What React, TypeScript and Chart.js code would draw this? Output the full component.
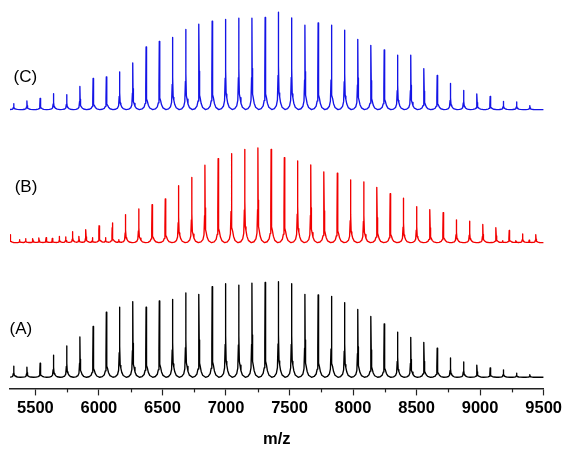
import { useEffect, useRef } from "react";
import { Chart, registerables } from "chart.js";

Chart.register(...registerables);

// ---- data -------------------------------------------------------------

const MZ_MIN = 5300;
const MZ_MAX = 9500;
const TICK_VALUES = [5500, 6000, 6500, 7000, 7500, 8000, 8500, 9000, 9500];
const AXIS_TITLE = "m/z";
const TRACE_LABELS = ["(A)", "(B)", "(C)"];

// Oligomer peak positions shared by spectra A and C (m/z)
const PEAK_MZ_AC = [
  5329, 5433, 5537, 5642, 5746, 5850, 5954, 6058, 6162, 6266,
  6371, 6475, 6579, 6683, 6787, 6891, 6996, 7100, 7204, 7308,
  7412, 7516, 7621, 7725, 7829, 7933, 8037, 8141, 8245, 8350,
  8454, 8558, 8662, 8766, 8870, 8975, 9079, 9183, 9287, 9391,
];

// Spectrum A peak intensities (a.u.)
const INTENSITY_A = [
  11.2, 10.2, 14.2, 22.2, 31.5, 40.5, 51.2, 65.5, 70.5, 76.2,
  70.5, 76.8, 78.5, 84.8, 83.5, 91.2, 94.2, 92.8, 94.8, 95.5,
  96.2, 94.2, 83.5, 82.8, 81.5, 75.2, 68.2, 61.2, 53.8, 45.5,
  40.2, 35.2, 29.2, 19.5, 15.5, 12.2, 9.5, 7.5, 4.2, 2.5,
];

// Spectrum C peak intensities (a.u.)
const INTENSITY_C = [
  6, 8.7, 11.3, 16, 15, 23.3, 31.3, 33, 38, 47,
  63, 68.7, 72.7, 80.7, 86, 89, 90.7, 92, 92, 92.7,
  98, 92.3, 85, 87.3, 85, 80, 70.7, 64.7, 60, 54.7,
  54.7, 41.3, 34.3, 26.3, 19.3, 15.7, 13.3, 8.3, 7.7, 4,
];

// Spectrum B main series (m/z) and intensities (a.u.)
const PEAK_MZ_B = [
  5376, 5480, 5584, 5689, 5793, 5897, 6001, 6105, 6209, 6313,
  6418, 6522, 6626, 6730, 6834, 6938, 7042, 7147, 7251, 7355,
  7459, 7563, 7667, 7771, 7876, 7980, 8084, 8188, 8292, 8396,
  8500, 8605, 8709, 8813, 8917, 9021, 9125, 9229, 9334, 9438,
];
const INTENSITY_B = [
  3, 4, 5, 6.3, 11, 13, 17, 20, 28.3, 34,
  38.3, 44, 57.3, 65.7, 78, 84.7, 89.7, 94, 95.3, 94,
  85.7, 82.3, 78.3, 71.3, 70, 63.3, 61.3, 55.7, 49.3, 44.7,
  36.3, 33.3, 30.3, 23, 21.7, 18.3, 15, 12.3, 8.7, 8,
];

// Spectrum B minor series (m/z) and intensities (a.u.)
const MINOR_MZ_B = [5300, 5423, 5528, 5633, 5738, 5842, 5948, 6052, 6156, 9177, 9282, 9386];
const MINOR_INTENSITY_B = [8, 4, 4.7, 4.3, 5.7, 6.3, 5, 5, 3, 2, 2, 2.5];

// ---- drawing settings -------------------------------------------------

const REPEAT = 104; // spacing of neighbouring oligomer peaks (m/z)
// Peak line shape: offsets in units of REPEAT, levels as a fraction of peak height
const PROFILE_OFFSETS = [-0.5, -0.3, -0.15, -0.07, -0.025, 0, 0.02, 0.05, 0.1, 0.17, 0.28, 0.5];
const PROFILE_LEVELS = [0, 0.01, 0.04, 0.1, 0.35, 1, 0.45, 0.17, 0.13, 0.07, 0.025, 0];

const Y_MAX = 386;
const BASELINE_A = 11.2;
const BASELINE_B = 146.7;
const BASELINE_C = 280.7;
const LABEL_ANCHORS = [
  { mz: 5386, y: 59.2 },
  { mz: 5426, y: 202.7 },
  { mz: 5421, y: 313.2 },
];

const FONT = "Arial, 'Liberation Sans', Helvetica, sans-serif";
const AXIS_COLOR = "#222";

function profileAt(dx: number): number {
  const u = dx / REPEAT;
  if (u <= PROFILE_OFFSETS[0] || u >= PROFILE_OFFSETS[PROFILE_OFFSETS.length - 1]) return 0;
  for (let i = 1; i < PROFILE_OFFSETS.length; i++) {
    if (u <= PROFILE_OFFSETS[i]) {
      const a = PROFILE_OFFSETS[i - 1];
      const b = PROFILE_OFFSETS[i];
      const t = (u - a) / (b - a);
      return PROFILE_LEVELS[i - 1] + t * (PROFILE_LEVELS[i] - PROFILE_LEVELS[i - 1]);
    }
  }
  return 0;
}

function buildTrace(mzs: number[], heights: number[], baseline: number) {
  const xs = new Set<number>([MZ_MIN, MZ_MAX]);
  mzs.forEach((m) => {
    PROFILE_OFFSETS.forEach((o) => {
      const x = m + o * REPEAT;
      if (x >= MZ_MIN && x <= MZ_MAX) xs.add(Math.round(x * 100) / 100);
    });
  });
  const sorted = Array.from(xs).sort((a, b) => a - b);
  return sorted.map((x) => {
    let y = baseline;
    mzs.forEach((m, i) => {
      y += heights[i] * profileAt(x - m);
    });
    return { x, y };
  });
}

const minorTicks = {
  id: "minorTicks",
  afterDraw(chart: any) {
    const xs = chart.scales.x;
    const ctx = chart.ctx;
    ctx.save();
    ctx.strokeStyle = AXIS_COLOR;
    ctx.lineWidth = 1.2;
    for (let i = 0; i < TICK_VALUES.length - 1; i++) {
      const v = (TICK_VALUES[i] + TICK_VALUES[i + 1]) / 2;
      const px = Math.round(xs.getPixelForValue(v)) + 0.5;
      ctx.beginPath();
      ctx.moveTo(px, chart.chartArea.bottom);
      ctx.lineTo(px, chart.chartArea.bottom + 4);
      ctx.stroke();
    }
    ctx.restore();
  },
};

const traceLabels = {
  id: "traceLabels",
  afterDatasetsDraw(chart: any) {
    const { ctx, scales } = chart;
    ctx.save();
    ctx.font = `17px ${FONT}`;
    ctx.fillStyle = "#000";
    ctx.textAlign = "center";
    ctx.textBaseline = "middle";
    TRACE_LABELS.forEach((t, i) => {
      const a = LABEL_ANCHORS[i];
      ctx.fillText(t, scales.x.getPixelForValue(a.mz), scales.y.getPixelForValue(a.y));
    });
    ctx.restore();
  },
};

export default function App() {
  const ref = useRef<HTMLCanvasElement | null>(null);

  useEffect(() => {
    if (!ref.current) return;
    const lineStyle = {
      pointRadius: 0,
      borderWidth: 1.35,
      tension: 0,
      borderJoinStyle: "round" as const,
      fill: false,
    };
    const chart = new Chart(ref.current, {
      type: "line",
      data: {
        datasets: [
          {
            label: "A",
            data: buildTrace(PEAK_MZ_AC, INTENSITY_A, BASELINE_A),
            borderColor: "#000000",
            ...lineStyle,
          },
          {
            label: "B",
            data: buildTrace(
              [...PEAK_MZ_B, ...MINOR_MZ_B],
              [...INTENSITY_B, ...MINOR_INTENSITY_B],
              BASELINE_B
            ),
            borderColor: "#f20000",
            ...lineStyle,
          },
          {
            label: "C",
            data: buildTrace(PEAK_MZ_AC, INTENSITY_C, BASELINE_C),
            borderColor: "#1414e6",
            ...lineStyle,
          },
        ],
      },
      options: {
        animation: false,
        responsive: false,
        events: [],
        layout: { padding: { left: 10, right: 20, top: 5, bottom: 0 } },
        plugins: {
          legend: { display: false },
          tooltip: { enabled: false },
          title: { display: false },
        },
        scales: {
          x: {
            type: "linear",
            min: MZ_MIN,
            max: MZ_MAX,
            afterBuildTicks: (s: any) => {
              s.ticks = TICK_VALUES.map((v) => ({ value: v }));
            },
            ticks: {
              autoSkip: false,
              maxRotation: 0,
              padding: 3,
              color: "#000",
              font: { family: FONT, size: 16.5, weight: "bold" },
              callback: (v: any) => String(v),
            },
            grid: {
              drawOnChartArea: false,
              drawTicks: true,
              tickLength: 7,
              tickColor: AXIS_COLOR,
              tickWidth: 1.2,
            },
            border: { display: true, color: AXIS_COLOR, width: 1.5 },
            title: {
              display: true,
              text: AXIS_TITLE,
              color: "#000",
              font: { family: FONT, size: 16.5, weight: "bold" },
              padding: { top: 8, bottom: 4 },
            },
          },
          y: { display: false, min: 0, max: Y_MAX },
        },
      },
      plugins: [minorTicks, traceLabels],
    });
    return () => chart.destroy();
  }, []);

  return (
    <div style={{ position: "absolute", left: 0, top: 0, width: 565, height: 453, background: "#fff" }}>
      <canvas ref={ref} width={565} height={453} />
    </div>
  );
}
